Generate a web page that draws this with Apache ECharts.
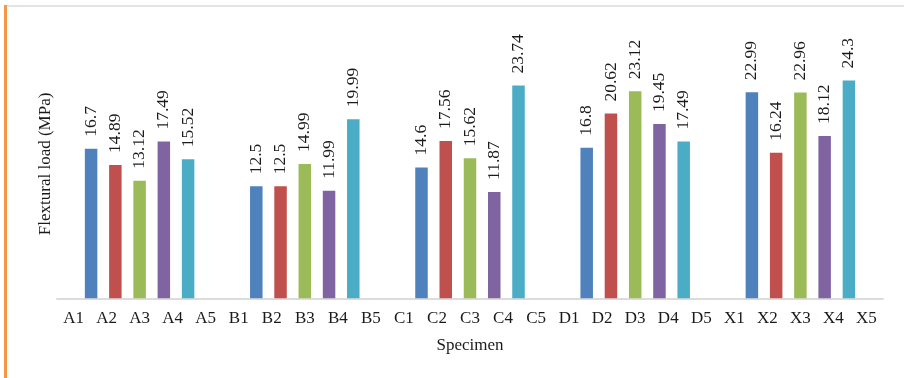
<!DOCTYPE html>
<html>
<head>
<meta charset="utf-8">
<script src="https://cdn.jsdelivr.net/npm/echarts@6/dist/echarts.min.js"></script>
<style>
  html, body { margin: 0; padding: 0; background: #fff; }
  #chart { width: 904px; height: 378px; }
</style>
</head>
<body>
<div id="chart"></div>
<script>
// Specimen groups (one cluster of five bars per group)
const groups = ['A', 'B', 'C', 'D', 'X'];
// Individual specimen labels along the axis
const specimenLabels = [
  'A1', 'A2', 'A3', 'A4', 'A5',
  'B1', 'B2', 'B3', 'B4', 'B5',
  'C1', 'C2', 'C3', 'C4', 'C5',
  'D1', 'D2', 'D3', 'D4', 'D5',
  'X1', 'X2', 'X3', 'X4', 'X5'
];
// Flexural load (MPa) of specimen n in each group
const specimen1 = [16.7, 12.5, 14.6, 16.8, 22.99];
const specimen2 = [14.89, 12.5, 17.56, 20.62, 16.24];
const specimen3 = [13.12, 14.99, 15.62, 23.12, 22.96];
const specimen4 = [17.49, 11.99, 11.87, 19.45, 18.12];
const specimen5 = [15.52, 19.99, 23.74, 17.49, 24.3];
const seriesValues = [specimen1, specimen2, specimen3, specimen4, specimen5];
const seriesColors = ['#4f81bd', '#c0504d', '#9bbb59', '#8064a2', '#4bacc6'];

const FONT = '"Liberation Serif", "Times New Roman", serif';

const chart = echarts.init(document.getElementById('chart'), null, { renderer: 'canvas' });

chart.setOption({
  animation: false,
  backgroundColor: '#ffffff',
  textStyle: { fontFamily: FONT },
  grid: { left: 57, right: 21, top: 29.5, bottom: 79.7, containLabel: false },
  xAxis: [
    {
      // cluster positions for the bars
      type: 'category',
      data: groups,
      position: 'bottom',
      show: false
    },
    {
      // visible specimen axis
      type: 'category',
      data: specimenLabels,
      position: 'bottom',
      axisLine: { show: true, lineStyle: { color: '#dcdcdc', width: 2 } },
      axisTick: { show: false },
      axisLabel: {
        interval: 0,
        margin: 12,
        fontFamily: FONT,
        fontSize: 17,
        color: '#1a1a1a'
      },
      name: 'Specimen',
      nameLocation: 'middle',
      nameGap: 39,
      nameTextStyle: { fontFamily: FONT, fontSize: 17, color: '#1a1a1a' }
    }
  ],
  yAxis: {
    type: 'value',
    min: 0,
    max: 30,
    axisLine: { show: false },
    axisTick: { show: false },
    axisLabel: { show: false },
    splitLine: { show: false },
    name: 'Flextural load (MPa)',
    nameLocation: 'middle',
    nameGap: 3,
    nameTextStyle: { fontFamily: FONT, fontSize: 17, color: '#1a1a1a' }
  },
  series: seriesValues.map((vals, i) => ({
    type: 'bar',
    name: 'Specimen ' + (i + 1),
    xAxisIndex: 0,
    data: vals,
    barWidth: 12.5,
    barGap: '94%',
    itemStyle: { color: seriesColors[i] },
    label: {
      show: true,
      position: 'top',
      rotate: 90,
      align: 'left',
      verticalAlign: 'middle',
      distance: 12,
      fontFamily: FONT,
      fontSize: 17.5,
      color: '#1a1a1a',
      formatter: p => String(p.value)
    }
  })),
  graphic: [
    // frame: orange left edge and thin grey top rule
    { type: 'rect', shape: { x: 4, y: 5, width: 3, height: 373 }, style: { fill: '#f79646' }, silent: true },
    { type: 'rect', shape: { x: 7, y: 5, width: 897, height: 2 }, style: { fill: '#e3e3e3' }, silent: true }
  ]
});
</script>
</body>
</html>
